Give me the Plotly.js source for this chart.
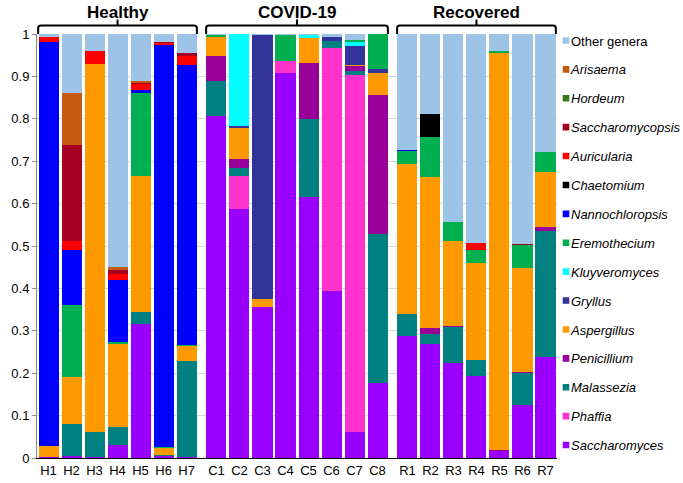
<!DOCTYPE html>
<html><head><meta charset="utf-8">
<script src="https://cdn.plot.ly/plotly-3.0.1.min.js"></script>
<style>html,body{margin:0;padding:0;background:#fff}#chart{width:683px;height:483px}</style>
</head><body><div id="chart"></div>
<script>
const samples = ['H1','H2','H3','H4','H5','H6','H7','C1','C2','C3','C4','C5','C6','C7','C8','R1','R2','R3','R4','R5','R6','R7'];
const sampleGroup = [0,0,0,0,0,0,0,1,1,1,1,1,1,1,1,2,2,2,2,2,2,2];
const groupNames = ['Healthy','COVID-19','Recovered'];

// stack order: bottom -> top
const genera = ['Saccharomyces','Phaffia','Malassezia','Penicillium','Aspergillus','Gryllus','Kluyveromyces','Eremothecium','Nannochloropsis','Chaetomium','Auricularia','Saccharomycopsis','Hordeum','Arisaema','Other genera'];
const colors = ['#9900FF','#FF33CC','#008080','#990099','#FF9900','#333399','#00FFFF','#00B050','#0000FF','#000000','#FF0000','#A50021','#38761D','#C55A11','#9DC3E6'];

const Saccharomyces    = [0.002,0.005,0.003,0.030,0.316,0.005,0.003, 0.806,0.587,0.356,0.909,0.616,0.393,0.061,0.178, 0.288,0.270,0.224,0.194,0.017,0.125,0.238];
const Phaffia          = [0,0,0,0,0,0,0, 0,0.078,0,0.027,0,0.575,0.843,0, 0,0,0,0,0,0,0];
const Malassezia       = [0,0.076,0.059,0.042,0.028,0.003,0.225, 0.082,0.019,0,0,0.184,0.015,0.008,0.350, 0.052,0.022,0.086,0.036,0,0.075,0.298];
const Penicillium      = [0,0,0,0,0,0,0, 0.060,0.021,0,0,0.131,0,0.012,0.328, 0,0.014,0.002,0,0.002,0.003,0.009];
const Aspergillus      = [0.026,0.110,0.868,0.197,0.321,0.015,0.035, 0.046,0.073,0.020,0,0.060,0,0.004,0.052, 0.353,0.357,0.200,0.230,0.937,0.246,0.130];
const Gryllus          = [0,0,0,0,0,0,0, 0,0.005,0.622,0,0,0.009,0.043,0.009, 0,0,0,0,0,0,0];
const Kluyveromyces    = [0,0,0,0,0,0,0, 0,0.217,0,0,0.006,0,0.011,0, 0,0,0,0,0,0,0];
const Eremothecium     = [0,0.170,0,0.004,0.196,0.002,0.004, 0.004,0,0,0.062,0,0,0.003,0.083, 0.031,0.094,0.044,0.030,0.004,0.053,0.046];
const Nannochloropsis  = [0.952,0.130,0,0.147,0.007,0.948,0.661, 0,0,0,0,0,0,0,0, 0.003,0,0,0,0,0,0];
const Chaetomium       = [0,0,0,0,0,0,0, 0,0,0,0,0,0,0,0, 0,0.055,0,0,0,0,0];
const Auricularia      = [0.013,0.020,0.031,0.015,0.014,0.006,0.021, 0,0,0,0,0,0,0,0, 0,0,0,0.016,0,0,0];
const Saccharomycopsis = [0,0.227,0,0.008,0.003,0.003,0.007, 0,0,0,0,0,0,0,0, 0,0,0,0,0,0.003,0];
const Hordeum          = [0,0,0,0,0,0,0, 0,0,0,0,0,0,0,0, 0,0,0,0,0,0,0];
const Arisaema         = [0,0.123,0,0.007,0.003,0,0, 0,0,0,0,0,0,0,0, 0,0,0,0,0,0,0];
const OtherGenera      = [0.007,0.139,0.039,0.550,0.112,0.019,0.044, 0.002,0,0.002,0.002,0.003,0.008,0.015,0, 0.273,0.188,0.444,0.494,0.041,0.495,0.279];

const seriesValues = [Saccharomyces,Phaffia,Malassezia,Penicillium,Aspergillus,Gryllus,Kluyveromyces,Eremothecium,Nannochloropsis,Chaetomium,Auricularia,Saccharomycopsis,Hordeum,Arisaema,OtherGenera];

const GROUP_GAP = 0.3;
const xpos = samples.map((s,i)=> i + sampleGroup[i]*GROUP_GAP);

const traces = genera.map((g,k)=>({
  type:'bar', name: g==='Other genera' ? g : '<i>'+g+'</i>',
  x: xpos, y: seriesValues[k],
  marker:{color:colors[k], line:{width:0}},
  legendgroup: 'g'+k,
  legendrank: 100 - k,
  hoverinfo:'name+y'
}));

// brackets and group titles
const shapes = [], annotations = [];
for (let gi=0; gi<groupNames.length; gi++){
  const idx = samples.map((s,i)=>i).filter(i=>sampleGroup[i]===gi);
  const x0 = xpos[idx[0]]-0.45, x1 = xpos[idx[idx.length-1]]+0.45, xm = (x0+x1)/2;
  const yb = 1.0, yt = 1.02, ytick = 1.034, r = 0.12;
  shapes.push({type:'path', xref:'x', yref:'paper',
    path:`M${x0},${yb} L${x0},${yt-0.006} Q${x0},${yt} ${x0+r},${yt} L${x1-r},${yt} Q${x1},${yt} ${x1},${yt-0.006} L${x1},${yb}`,
    line:{color:'#000',width:2}});
  shapes.push({type:'line', xref:'x', yref:'paper', x0:xm, x1:xm, y0:yt, y1:ytick, line:{color:'#000',width:2}});
  annotations.push({xref:'x', yref:'paper', x:xm, y:1.027, yanchor:'bottom', showarrow:false,
    text:'<b>'+groupNames[gi]+'</b>', borderpad:0,
    font:{family:'Liberation Sans, Arial, sans-serif', size:17, color:'#000'}});
}

const layout = {
  width:683, height:483,
  margin:{l:37, r:126, t:34, b:25, pad:0, autoexpand:false},
  paper_bgcolor:'#fff', plot_bgcolor:'#fff',
  barmode:'stack', bargap:0.13,
  font:{family:'Liberation Sans, Arial, sans-serif', color:'#000', size:13},
  xaxis:{range:[-0.5, xpos[xpos.length-1]+0.5], tickvals:xpos, ticktext:samples, showgrid:false, zeroline:false,
    showline:true, linecolor:'#000', linewidth:1, ticks:'', tickfont:{size:13}},
  yaxis:{range:[0,1], tickvals:[0,0.1,0.2,0.3,0.4,0.5,0.6,0.7,0.8,0.9,1], ticktext:['0','0.1','0.2','0.3','0.4','0.5','0.6','0.7','0.8','0.9','1'],
    showgrid:true, gridcolor:'#d9d9d9', zeroline:false, showline:true, linecolor:'#888', ticks:'outside', ticklen:4, tickcolor:'#888', tickfont:{size:13}},
  legend:{traceorder:'grouped', tracegroupgap:9, x:0.950, xanchor:'left', y:1.02, yanchor:'top', maxheight:1000,
    font:{size:13, color:'#000'}, itemwidth:30, bgcolor:'rgba(0,0,0,0)'},
  shapes, annotations, showlegend:true
};

Plotly.newPlot('chart', traces, layout, {displayModeBar:false, staticPlot:true}).then(()=>{
  document.querySelectorAll('.legend .legendpoints path').forEach(p=>{
    const t = p.getAttribute('transform') || '';
    p.setAttribute('transform', t + ' translate(15,0) scale(0.55)');
  });
});
</script></body></html>
